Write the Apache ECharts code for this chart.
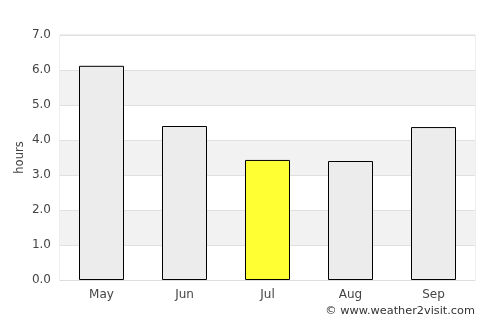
<!DOCTYPE html>
<html lang="en">
<head>
    <meta charset="UTF-8">
    <title>Sunshine hours</title>
    <style>
        html, body { margin: 0; padding: 0; background: #fff; }
        div#container { width: 500px; height: 325px; }
    </style>
</head>
<body>
    <div id="container"></div>
    <script src="https://cdn.jsdelivr.net/npm/echarts@6/dist/echarts.min.js"></script>
    <script>
        var months = ['May', 'Jun', 'Jul', 'Aug', 'Sep'];
        var hours = [6.12, 4.4, 3.43, 3.4, 4.37];
        var highlight = 'Jul';

        var chart = echarts.init(document.getElementById('container'));
        var barData = months.map(function (m, i) {
            return {
                value: hours[i],
                itemStyle: { color: m === highlight ? '#ffff33' : '#ececec' }
            };
        });

        var options = {
            animation: false,
            textStyle: { fontFamily: 'DejaVu Sans' },
            grid: { left: 60, right: 25, top: 35, bottom: 45, show: true, borderColor: '#dddddd', borderWidth: 1 },
            xAxis: {
                type: 'category',
                data: months,
                axisLine: { lineStyle: { color: '#dddddd' } },
                axisTick: { show: false },
                axisLabel: { color: '#444', fontSize: 12, margin: 9 }
            },
            yAxis: {
                type: 'value',
                min: 0,
                max: 7,
                interval: 1,
                name: 'hours',
                nameLocation: 'middle',
                nameGap: 34,
                nameMoveOverlap: false,
                nameTextStyle: { color: '#444', fontSize: 11.5 },
                axisLine: { show: false },
                axisTick: { show: false },
                axisLabel: {
                    color: '#444', fontSize: 12, margin: 9,
                    formatter: function (v) { return v.toFixed(1); }
                },
                splitLine: { lineStyle: { color: '#e0e0e0' } },
                splitArea: { show: true, areaStyle: { color: ['#ffffff', '#f2f2f2'] } }
            },
            series: [{
                type: 'bar',
                data: barData,
                barWidth: 45,
                itemStyle: { borderColor: '#000', borderWidth: 1 }
            }],
            graphic: [{
                type: 'text',
                right: 25,
                top: 306,
                style: { text: '© www.weather2visit.com', fill: '#333', font: '11.3px DejaVu Sans' }
            }]
        };
        chart.setOption(options);
    </script>
</body>
</html>
